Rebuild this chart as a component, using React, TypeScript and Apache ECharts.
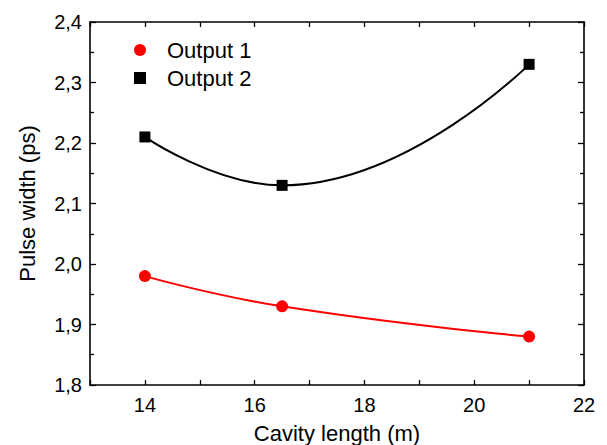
import React, { useEffect, useRef } from 'react';
import * as echarts from 'echarts';

const cavityLength = [14, 16.5, 21];
const output1 = [1.98, 1.93, 1.88];
const output2 = [2.21, 2.13, 2.33];
const seriesNames = ['Output 1', 'Output 2'];
const xTitle = 'Cavity length (m)';
const yTitle = 'Pulse width (ps)';
const xRange = [13, 22];
const yRange = [1.8, 2.4];

const FONT = 'Liberation Sans';

export default function App() {
  const ref = useRef<HTMLDivElement>(null);
  useEffect(() => {
    document.body.style.margin = '0';
    if (!ref.current) return;
    const chart = echarts.init(ref.current, null, { renderer: 'svg' });
    const axisLine = { show: true, lineStyle: { color: '#000', width: 1.6 } };
    const xBase = {
      type: 'value' as const,
      min: xRange[0],
      max: xRange[1],
      interval: 1,
      splitLine: { show: false },
      axisLine,
      axisTick: { show: true, inside: true, length: 5, lineStyle: { color: '#000', width: 1.3 } },
    };
    const yBase = {
      type: 'value' as const,
      min: yRange[0],
      max: yRange[1],
      interval: 0.1,
      splitLine: { show: false },
      axisLine,
      axisTick: { show: true, inside: true, length: 6, lineStyle: { color: '#000', width: 1.3 } },
      minorTick: { show: true, splitNumber: 2, length: 4, lineStyle: { color: '#000', width: 1.3 } },
      minorSplitLine: { show: false },
    };
    chart.setOption({
      animation: false,
      backgroundColor: '#fff',
      grid: { left: 90, right: 23, top: 22, bottom: 60, outerBoundsMode: 'none', containLabel: false },
      legend: {
        orient: 'vertical',
        left: 129,
        top: 34,
        itemWidth: 12,
        itemHeight: 12,
        itemGap: 6,
        data: [
          { name: seriesNames[0], icon: 'circle' },
          { name: seriesNames[1], icon: 'rect' },
        ],
        textStyle: { fontFamily: FONT, fontSize: 22, color: '#000', padding: [0, 0, 0, 16], lineHeight: 22 },
      },
      xAxis: [
        {
          ...xBase,
          position: 'bottom',
          name: xTitle,
          nameLocation: 'middle',
          nameGap: 37,
          nameTextStyle: { fontFamily: FONT, fontSize: 22, color: '#000' },
          axisLabel: {
            show: true,
            margin: 10,
            fontFamily: FONT,
            fontSize: 20,
            color: '#000',
            formatter: (v: number) => (Math.round(v) % 2 === 0 ? String(Math.round(v)) : ''),
          },
        },
        {
          ...xBase,
          position: 'top',
          axisLabel: { show: false },
        },
      ],
      yAxis: [
        {
          ...yBase,
          position: 'left',
          name: yTitle,
          nameLocation: 'middle',
          nameGap: 52,
          nameTextStyle: { fontFamily: FONT, fontSize: 22, color: '#000' },
          axisLabel: {
            show: true,
            margin: 8,
            fontFamily: FONT,
            fontSize: 20,
            color: '#000',
            formatter: (v: number) => v.toFixed(1).replace('.', ','),
          },
        },
        {
          ...yBase,
          position: 'right',
          axisLabel: { show: false },
        },
      ],
      series: [
        {
          name: seriesNames[0],
          type: 'line',
          smooth: 0.5,
          symbol: 'circle',
          symbolSize: 12,
          showSymbol: true,
          color: '#ff0000',
          lineStyle: { color: '#ff0000', width: 2 },
          itemStyle: { color: '#ff0000' },
          data: cavityLength.map((x, i) => [x, output1[i]]),
          z: 3,
        },
        {
          name: seriesNames[1],
          type: 'line',
          smooth: 0.5,
          symbol: 'rect',
          symbolSize: 11,
          showSymbol: true,
          color: '#000',
          lineStyle: { color: '#000', width: 2 },
          itemStyle: { color: '#000' },
          data: cavityLength.map((x, i) => [x, output2[i]]),
          z: 3,
        },
      ],
    });
    return () => chart.dispose();
  }, []);
  return <div ref={ref} style={{ width: 607, height: 445 }} />;
}
